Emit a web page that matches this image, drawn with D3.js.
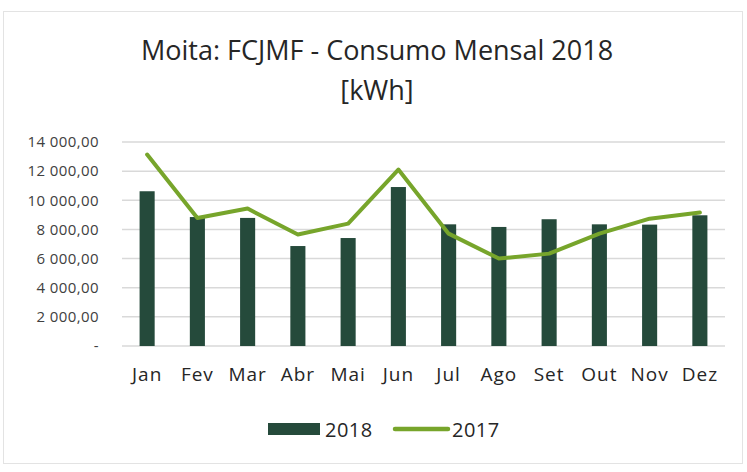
<!DOCTYPE html>
<html>
<head>
<meta charset="utf-8">
<script src="https://cdn.jsdelivr.net/npm/d3@7"></script>
<style>
  body { margin: 0; background: #fff; }
  svg { font-family: "Open Sans", "Noto Sans", sans-serif; }
</style>
</head>
<body>
<div id="chart"></div>
<script>
// data
var months = ["Jan", "Fev", "Mar", "Abr", "Mai", "Jun", "Jul", "Ago", "Set", "Out", "Nov", "Dez"];
var values2018 = [10620, 8850, 8790, 6860, 7410, 10910, 8350, 8170, 8700, 8350, 8330, 8970];
var values2017 = [13140, 8790, 9430, 7650, 8400, 12110, 7710, 6000, 6340, 7710, 8740, 9160];
var yTicks = [0, 2000, 4000, 6000, 8000, 10000, 12000, 14000];

var svgWidth = 747;
var svgHeight = 472;

var margin = { top: 142, bottom: 126, right: 22, left: 122 };
var width = svgWidth - margin.left - margin.right;
var height = svgHeight - margin.top - margin.bottom;

var svg = d3.select("#chart")
    .append("svg")
    .attr("width", svgWidth)
    .attr("height", svgHeight);

// chart border
svg.append("rect")
    .attr("x", 3.5).attr("y", 11.5)
    .attr("width", 739).attr("height", 452)
    .attr("fill", "none")
    .attr("stroke", "#e3e3e3");

// title
svg.append("text")
    .attr("x", 377).attr("y", 60)
    .attr("text-anchor", "middle")
    .attr("font-size", 27)
    .attr("fill", "#262626")
    .text("Moita: FCJMF - Consumo Mensal 2018");
svg.append("text")
    .attr("x", 377).attr("y", 100)
    .attr("text-anchor", "middle")
    .attr("font-size", 27)
    .attr("fill", "#262626")
    .text("[kWh]");

var chartGroup = svg.append("g")
    .attr("transform", `translate(${margin.left}, ${margin.top})`);

var xScale = d3.scaleBand()
    .domain(months)
    .range([0, width])
    .paddingInner(0.7)
    .paddingOuter(0.35);

var yScale = d3.scaleLinear()
    .domain([0, 14000])
    .range([height, 0]);

// gridlines
chartGroup.append("g")
    .selectAll("line")
    .data(yTicks)
    .enter()
    .append("line")
    .attr("x1", 0)
    .attr("x2", width)
    .attr("y1", d => yScale(d))
    .attr("y2", d => yScale(d))
    .attr("stroke", "#d9d9d9")
    .attr("stroke-width", 1.5);

// y axis
var fmt = function (d) {
    if (d === 0) return "-";
    return d3.format(",.2f")(d).replace(/,/g, " ").replace(".", ",");
};
var yAxis = d3.axisLeft(yScale).tickValues(yTicks).tickFormat(fmt).tickSize(0).tickPadding(23);
var yG = chartGroup.append("g").call(yAxis);
yG.select(".domain").remove();
yG.selectAll("text")
    .attr("font-size", 15)
    .attr("letter-spacing", 0.4)
    .attr("fill", "#404040")
    .attr("font-family", "Open Sans, sans-serif");

// x axis
var xAxis = d3.axisBottom(xScale).tickSize(0).tickPadding(22);
var xG = chartGroup.append("g")
    .attr("transform", `translate(0, ${height})`)
    .call(xAxis);
xG.select(".domain").remove();
xG.selectAll("text")
    .attr("font-size", 19)
    .attr("letter-spacing", 1)
    .attr("fill", "#262626")
    .attr("font-family", "Open Sans, sans-serif");

// bars
chartGroup.selectAll(".bar")
    .data(values2018)
    .enter()
    .append("rect")
    .attr("class", "bar")
    .attr("x", (d, i) => xScale(months[i]))
    .attr("y", d => yScale(d))
    .attr("width", xScale.bandwidth())
    .attr("height", d => height - yScale(d))
    .attr("fill", "#254a3b");

// line 2017
var line = d3.line()
    .x((d, i) => xScale(months[i]) + xScale.bandwidth() / 2)
    .y(d => yScale(d));

chartGroup.append("path")
    .datum(values2017)
    .attr("d", line)
    .attr("fill", "none")
    .attr("stroke", "#77a52b")
    .attr("stroke-width", 4)
    .attr("stroke-linejoin", "round")
    .attr("stroke-linecap", "round");

// legend
var legend = svg.append("g");
legend.append("rect")
    .attr("x", 268).attr("y", 423)
    .attr("width", 52).attr("height", 12)
    .attr("fill", "#254a3b");
legend.append("text")
    .attr("x", 325).attr("y", 437)
    .attr("font-size", 20)
    .attr("letter-spacing", 0.5)
    .attr("fill", "#262626")
    .text("2018");
legend.append("line")
    .attr("x1", 395).attr("x2", 448)
    .attr("y1", 429).attr("y2", 429)
    .attr("stroke", "#77a52b")
    .attr("stroke-width", 4.5)
    .attr("stroke-linecap", "round");
legend.append("text")
    .attr("x", 452).attr("y", 437)
    .attr("font-size", 20)
    .attr("letter-spacing", 0.5)
    .attr("fill", "#262626")
    .text("2017");
</script>
</body>
</html>
